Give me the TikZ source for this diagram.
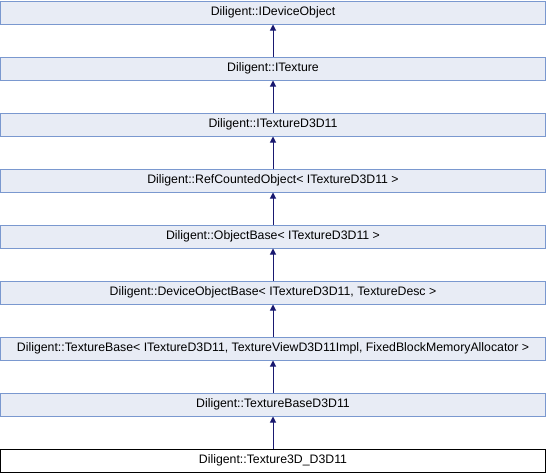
\documentclass[tikz,border=0pt]{standalone}
\usepackage{fontspec}
\setmainfont{Liberation Sans}
\usetikzlibrary{arrows.meta}
\definecolor{boxfill}{RGB}{232,236,245}
\definecolor{boxline}{RGB}{122,152,207}
\definecolor{edgecol}{RGB}{25,25,112}
\tikzset{
  cls/.style={draw=boxline, fill=boxfill, line width=1pt, minimum width=545pt, minimum height=23pt, inner sep=0pt, font=\fontsize{12.3}{14}\selectfont, anchor=north},
  clsmain/.style={cls, draw=black, fill=white},
  inh/.style={draw=edgecol, line width=1pt, -{Triangle[length=6pt,width=6pt]}}
}
\begin{document}
\begin{tikzpicture}[x=1pt,y=-1pt]
\useasboundingbox (0,0) rectangle (546,472);
\node[cls] (n1) at (273,0.5) {Diligent::IDeviceObject};
\node[cls] (n2) at (273,56.5) {Diligent::ITexture};
\node[cls] (n3) at (273,112.5) {Diligent::ITextureD3D11};
\node[cls] (n4) at (273,168.5) {Diligent::RefCountedObject< ITextureD3D11 >};
\node[cls] (n5) at (273,224.5) {Diligent::ObjectBase< ITextureD3D11 >};
\node[cls] (n6) at (273,280.5) {Diligent::DeviceObjectBase< ITextureD3D11, TextureDesc >};
\node[cls] (n7) at (273,336.5) {Diligent::TextureBase< ITextureD3D11, TextureViewD3D11Impl, FixedBlockMemoryAllocator >};
\node[cls] (n8) at (273,392.5) {Diligent::TextureBaseD3D11};
\node[clsmain] (n9) at (273,448.5) {Diligent::Texture3D\_D3D11};
\draw[inh] (n2) -- (n1);
\draw[inh] (n3) -- (n2);
\draw[inh] (n4) -- (n3);
\draw[inh] (n5) -- (n4);
\draw[inh] (n6) -- (n5);
\draw[inh] (n7) -- (n6);
\draw[inh] (n8) -- (n7);
\draw[inh] (n9) -- (n8);
\end{tikzpicture}
\end{document}
